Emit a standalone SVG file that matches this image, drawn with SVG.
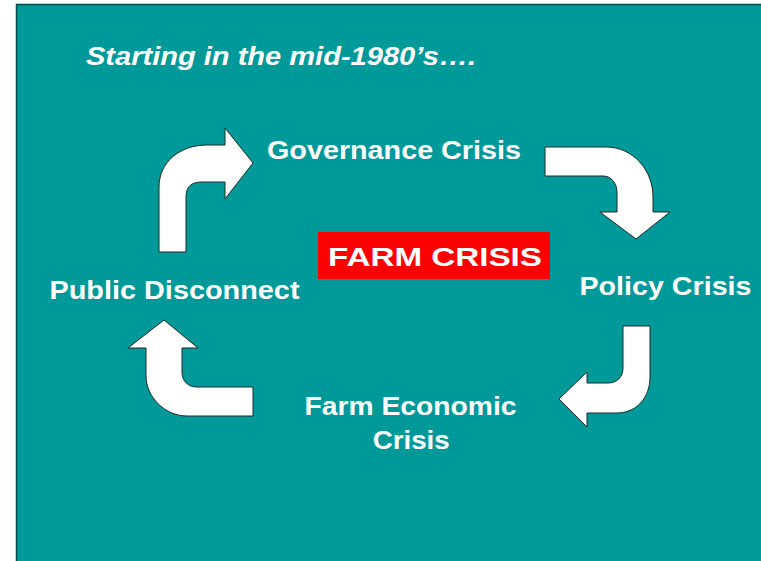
<svg xmlns="http://www.w3.org/2000/svg" width="761" height="561" viewBox="0 0 761 561">
<style>
.t{font-family:"Liberation Sans",Arial,sans-serif;font-weight:bold;fill:#ffffff;font-size:26px}
.arrow{fill:#ffffff;stroke:#1a2a2a;stroke-width:1;stroke-linejoin:miter}
</style>
<rect x="0" y="0" width="761" height="561" fill="#ffffff"/>
<rect x="16.5" y="4.5" width="760" height="560" fill="#009999" stroke="#004d4d" stroke-width="1.5"/>
<g id="title">
<text class="t" x="86" y="65" font-style="italic" font-size="25.5" textLength="390" lengthAdjust="spacingAndGlyphs">Starting in the mid-1980’s….</text>
</g>
<g id="farm-crisis">
<rect x="318" y="232" width="232" height="47" fill="#ff0000"/>
<text class="t" x="328" y="265.5" font-size="30.5" textLength="214" lengthAdjust="spacingAndGlyphs">FARM CRISIS</text>
</g>
<g id="governance-crisis">
<text class="t" x="267" y="159" textLength="254" lengthAdjust="spacingAndGlyphs">Governance Crisis</text>
</g>
<g id="policy-crisis">
<text class="t" x="579.5" y="295" textLength="172" lengthAdjust="spacingAndGlyphs">Policy Crisis</text>
</g>
<g id="farm-economic-crisis">
<text class="t" x="304.5" y="415" textLength="212" lengthAdjust="spacingAndGlyphs">Farm Economic</text>
<text class="t" x="372.7" y="449" textLength="77" lengthAdjust="spacingAndGlyphs">Crisis</text>
</g>
<g id="public-disconnect">
<text class="t" x="49.5" y="298.5" textLength="250" lengthAdjust="spacingAndGlyphs">Public Disconnect</text>
</g>
<g id="connectors">
<path class="arrow" d="M159,252 L159,187 C159,162 180,145 207,145 L225,145 L225,128 L253,163 L225,199 L225,182 L202,182 C191,182 186,187 186,197 L186,252 Z"/>
<path class="arrow" d="M545,147 L606,147 C633,147 653,170 653,197 L653,212 L670,212 L636,239 L600,212 L617,212 L617,192 C617,183 611,176 603,176 L545,176 Z"/>
<path class="arrow" d="M623,326 L650,326 L650,377 C650,398 636,413 617,413 L587,413 L587,427 L559,399 L587,372 L587,383 L608,383 C617,383 623,377 623,368 Z"/>
<path class="arrow" d="M164,320 L198,348 L182,348 L182,372 C182,381 188,387 197,387 L253,387 L253,416 L187,416 C165,416 146,397 146,376 L146,348 L128,348 Z"/>
</g>
</svg>
